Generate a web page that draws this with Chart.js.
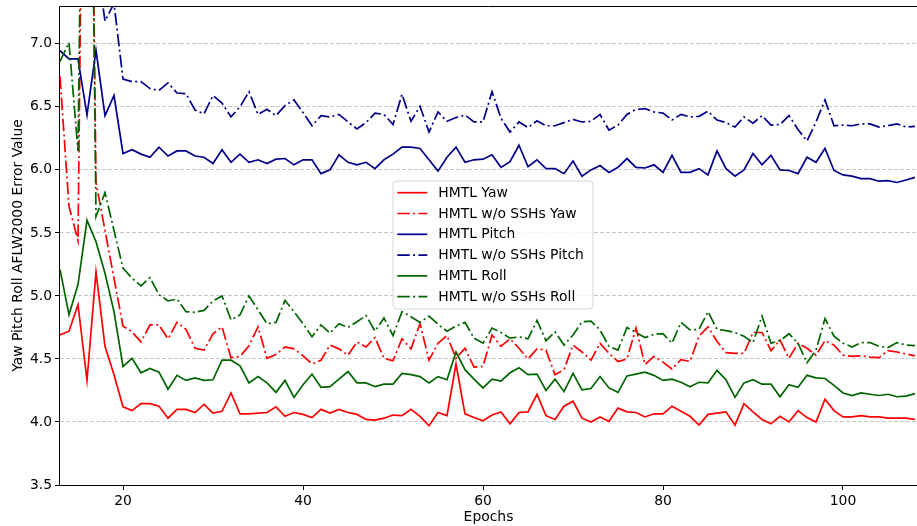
<!DOCTYPE html>
<html>
<head>
<meta charset="utf-8">
<script src="https://cdn.jsdelivr.net/npm/chart.js@4.4.1/dist/chart.umd.min.js"></script>
<style>
html,body{margin:0;padding:0;background:#fff;overflow:hidden;}
#wrap{position:relative;width:917px;height:526px;}
</style>
</head>
<body>
<div id="wrap"><canvas id="c" width="917" height="526"></canvas></div>
<script>
const epochs = [13,14,15,16,17,18,19,20,21,22,
  23,24,25,26,27,28,29,30,31,32,
  33,34,35,36,37,38,39,40,41,42,
  43,44,45,46,47,48,49,50,51,52,
  53,54,55,56,57,58,59,60,61,62,
  63,64,65,66,67,68,69,70,71,72,
  73,74,75,76,77,78,79,80,81,82,
  83,84,85,86,87,88,89,90,91,92,
  93,94,95,96,97,98,99,100,101,102,
  103,104,105,106,107,108];

const hmtlYaw = [4.69,4.72,4.93,4.33,5.19,4.60,4.375,4.12,4.09,4.145,
  4.145,4.125,4.03,4.10,4.10,4.075,4.14,4.07,4.085,4.23,
  4.065,4.065,4.07,4.075,4.12,4.045,4.075,4.06,4.035,4.10,
  4.07,4.10,4.075,4.06,4.02,4.015,4.03,4.055,4.05,4.10,
  4.045,3.97,4.075,4.05,4.46,4.065,4.035,4.01,4.055,4.08,
  3.985,4.075,4.08,4.22,4.05,4.02,4.125,4.165,4.03,4.00,
  4.04,4.005,4.11,4.08,4.075,4.04,4.065,4.065,4.125,4.085,
  4.045,3.975,4.06,4.07,4.08,3.975,4.145,4.08,4.02,3.985,
  4.045,4.00,4.09,4.035,4.00,4.18,4.09,4.04,4.04,4.05,
  4.04,4.04,4.03,4.03,4.03,4.02];

const noSshYaw = [6.74,5.71,5.44,12.0,5.90,5.52,5.14,4.76,4.715,4.635,
  4.77,4.77,4.66,4.79,4.735,4.585,4.57,4.70,4.755,4.51,
  4.52,4.605,4.755,4.505,4.535,4.595,4.58,4.525,4.46,4.49,
  4.61,4.58,4.53,4.635,4.595,4.67,4.505,4.485,4.66,4.58,
  4.78,4.49,4.625,4.685,4.505,4.585,4.435,4.44,4.69,4.60,
  4.66,4.585,4.50,4.58,4.57,4.375,4.415,4.61,4.555,4.49,
  4.625,4.545,4.48,4.50,4.745,4.455,4.52,4.475,4.42,4.495,
  4.48,4.68,4.755,4.64,4.55,4.545,4.545,4.71,4.71,4.565,
  4.65,4.505,4.625,4.585,4.53,4.645,4.61,4.53,4.52,4.525,
  4.515,4.51,4.565,4.555,4.54,4.525];

const hmtlPitch = [6.945,6.88,6.88,6.435,6.95,6.43,6.59,6.13,6.16,6.125,
  6.10,6.18,6.11,6.15,6.15,6.11,6.10,6.05,6.16,6.06,
  6.125,6.06,6.08,6.05,6.085,6.09,6.04,6.08,6.08,5.97,
  6.00,6.12,6.06,6.04,6.06,6.01,6.08,6.125,6.18,6.18,
  6.17,6.08,5.99,6.10,6.18,6.06,6.08,6.085,6.12,6.02,
  6.065,6.195,6.025,6.08,6.01,6.01,5.97,6.07,5.95,6.00,
  6.035,5.98,6.02,6.09,6.02,6.015,6.04,5.98,6.115,5.98,
  5.98,6.01,5.96,6.15,6.01,5.95,6.00,6.13,6.04,6.115,
  6.00,5.995,5.97,6.10,6.06,6.17,5.995,5.96,5.95,5.93,
  5.93,5.91,5.915,5.90,5.92,5.94];

const noSshPitch = [8.2,8.0,7.9,7.8,7.7,7.18,7.32,6.72,6.70,6.70,
  6.645,6.63,6.69,6.61,6.605,6.475,6.445,6.59,6.53,6.42,
  6.50,6.62,6.44,6.48,6.43,6.51,6.555,6.455,6.35,6.43,
  6.42,6.44,6.38,6.325,6.375,6.45,6.44,6.36,6.60,6.385,
  6.505,6.30,6.46,6.385,6.415,6.435,6.38,6.38,6.62,6.41,
  6.30,6.38,6.335,6.39,6.35,6.35,6.375,6.40,6.38,6.385,
  6.44,6.315,6.355,6.44,6.48,6.485,6.46,6.45,6.395,6.44,
  6.42,6.425,6.465,6.395,6.375,6.34,6.42,6.37,6.43,6.355,
  6.36,6.43,6.32,6.23,6.38,6.555,6.35,6.355,6.35,6.365,
  6.365,6.34,6.35,6.365,6.34,6.345];

const hmtlRoll = [5.21,4.85,5.09,5.60,5.43,5.18,4.875,4.44,4.505,4.39,
  4.425,4.395,4.26,4.37,4.33,4.35,4.33,4.335,4.49,4.49,
  4.445,4.31,4.36,4.31,4.235,4.33,4.195,4.295,4.38,4.275,
  4.28,4.34,4.40,4.31,4.31,4.28,4.30,4.30,4.385,4.375,
  4.36,4.31,4.36,4.335,4.555,4.415,4.34,4.27,4.34,4.325,
  4.39,4.43,4.375,4.38,4.25,4.34,4.24,4.385,4.255,4.265,
  4.36,4.27,4.235,4.365,4.38,4.395,4.37,4.33,4.34,4.315,
  4.28,4.315,4.31,4.41,4.335,4.195,4.31,4.335,4.30,4.30,
  4.20,4.295,4.275,4.37,4.35,4.345,4.29,4.23,4.21,4.23,
  4.22,4.21,4.22,4.20,4.205,4.225];

const noSshRoll = [6.86,7.01,6.15,12.0,5.63,5.82,5.52,5.22,5.14,5.08,
  5.145,5.01,4.96,4.975,4.875,4.87,4.885,4.96,5.00,4.81,
  4.85,5.00,4.89,4.78,4.79,4.965,4.875,4.78,4.675,4.77,
  4.705,4.78,4.75,4.795,4.845,4.72,4.825,4.685,4.875,4.835,
  4.79,4.84,4.775,4.72,4.76,4.79,4.665,4.625,4.745,4.71,
  4.665,4.675,4.66,4.805,4.645,4.715,4.61,4.69,4.795,4.80,
  4.73,4.60,4.57,4.75,4.71,4.67,4.695,4.70,4.625,4.79,
  4.73,4.735,4.875,4.735,4.725,4.71,4.68,4.63,4.84,4.625,
  4.645,4.70,4.625,4.47,4.57,4.82,4.68,4.625,4.595,4.63,
  4.63,4.60,4.59,4.63,4.61,4.605];

const seriesLabels = ['HMTL Yaw','HMTL w/o SSHs Yaw','HMTL Pitch','HMTL w/o SSHs Pitch','HMTL Roll','HMTL w/o SSHs Roll'];
const xTickValues = [20,40,60,80,100];
const yTickValues = [3.5,4.0,4.5,5.0,5.5,6.0,6.5,7.0];
const xLabel = 'Epochs';
const yLabel = 'Yaw Pitch Roll AFLW2000 Error Value';

const RED = '#ff0000', BLUE = '#00008b', GREEN = '#006400';
const DASHDOT = [12.5, 3.3, 2, 3.3];
const LW = 1.7;
const FONT = {family: "'DejaVu Sans', sans-serif", size: 13.9};

const styles = [
  {color: RED, dash: []}, {color: RED, dash: DASHDOT},
  {color: BLUE, dash: []}, {color: BLUE, dash: DASHDOT},
  {color: GREEN, dash: []}, {color: GREEN, dash: DASHDOT}
];
const seriesValues = [hmtlYaw, noSshYaw, hmtlPitch, noSshPitch, hmtlRoll, noSshRoll];

const datasets = seriesValues.map((vals, i) => ({
  label: seriesLabels[i],
  data: epochs.map((e, j) => ({x: e, y: vals[j]})),
  borderColor: styles[i].color,
  backgroundColor: styles[i].color,
  borderDash: styles[i].dash,
  borderWidth: LW,
  pointRadius: 0,
  pointHoverRadius: 0,
  tension: 0,
  fill: false,
  order: 10 - i
}));

const framePlugin = {
  id: 'frame',
  afterDatasetsDraw(chart) {
    const ctx = chart.ctx, a = chart.chartArea;
    ctx.save();
    ctx.strokeStyle = '#000';
    ctx.lineWidth = 1;
    ctx.setLineDash([]);
    ctx.beginPath();
    const L = Math.round(a.left) - 0.5, T = Math.round(a.top) + 0.5, B = Math.round(a.bottom) + 0.5;
    ctx.moveTo(a.right + 2, T); ctx.lineTo(L, T); ctx.lineTo(L, B); ctx.lineTo(a.right + 2, B);
    ctx.stroke();

    // legend
    const x0 = a.left + 333, y0 = a.top + 175, w = 200, h = 128, r = 4;
    ctx.beginPath();
    ctx.moveTo(x0 + r, y0);
    ctx.lineTo(x0 + w - r, y0); ctx.quadraticCurveTo(x0 + w, y0, x0 + w, y0 + r);
    ctx.lineTo(x0 + w, y0 + h - r); ctx.quadraticCurveTo(x0 + w, y0 + h, x0 + w - r, y0 + h);
    ctx.lineTo(x0 + r, y0 + h); ctx.quadraticCurveTo(x0, y0 + h, x0, y0 + h - r);
    ctx.lineTo(x0, y0 + r); ctx.quadraticCurveTo(x0, y0, x0 + r, y0);
    ctx.closePath();
    ctx.fillStyle = 'rgba(255,255,255,0.8)';
    ctx.fill();
    ctx.strokeStyle = '#d6d6d6';
    ctx.lineWidth = 1;
    ctx.stroke();
    ctx.font = FONT.size + 'px ' + FONT.family;
    ctx.textBaseline = 'middle';
    ctx.textAlign = 'left';
    chart.data.datasets.forEach((ds, i) => {
      const cy = y0 + 11.7 + i * 20.8;
      ctx.beginPath();
      ctx.strokeStyle = ds.borderColor;
      ctx.lineWidth = ds.borderWidth;
      ctx.setLineDash(ds.borderDash);
      ctx.moveTo(x0 + 4.3, cy); ctx.lineTo(x0 + 34.3, cy);
      ctx.stroke();
      ctx.setLineDash([]);
      ctx.fillStyle = '#000';
      ctx.fillText(ds.label, x0 + 45.3, cy + 0.5);
    });
    ctx.restore();
  }
};

new Chart(document.getElementById('c'), {
  type: 'line',
  data: {datasets},
  options: {
    responsive: false,
    animation: false,
    devicePixelRatio: 1,
    layout: {padding: {top: 6, right: 0, bottom: 0, left: 0}},
    plugins: {legend: {display: false}, tooltip: {enabled: false}},
    scales: {
      x: {
        type: 'linear',
        min: 13,
        max: 13 + 857 / 9,
        afterBuildTicks: s => { s.ticks = xTickValues.map(v => ({value: v})); },
        afterFit: s => { s.height = 41; s.paddingLeft = 0; s.paddingRight = 0; },
        grid: {display: true, drawOnChartArea: false, drawTicks: true, tickLength: 5, tickColor: '#000', tickWidth: 1},
        border: {display: false},
        ticks: {font: FONT, color: '#000', padding: 3, maxRotation: 0, autoSkip: false,
          callback: v => String(v)},
        title: {display: true, text: xLabel, font: FONT, color: '#000', padding: {top: 2, bottom: 0.7}}
      },
      y: {
        type: 'linear',
        min: 3.5,
        max: 7.3,
        afterBuildTicks: s => { s.ticks = yTickValues.map(v => ({value: v})); },
        afterFit: s => { s.width = 60; s.paddingTop = 0; s.paddingBottom = 0; },
        grid: {display: true, drawOnChartArea: true, color: '#c8c8c8', lineWidth: 1,
          tickLength: 5, tickColor: '#000', tickWidth: 1, tickBorderDash: []},
        border: {display: false, dash: [4, 2]},
        ticks: {font: FONT, color: '#000', padding: 3, autoSkip: false,
          callback: v => Number(v).toFixed(1)},
        title: {display: true, text: yLabel, font: FONT, color: '#000', padding: {top: 10, bottom: 0}}
      }
    }
  },
  plugins: [framePlugin]
});
</script>
</body>
</html>
